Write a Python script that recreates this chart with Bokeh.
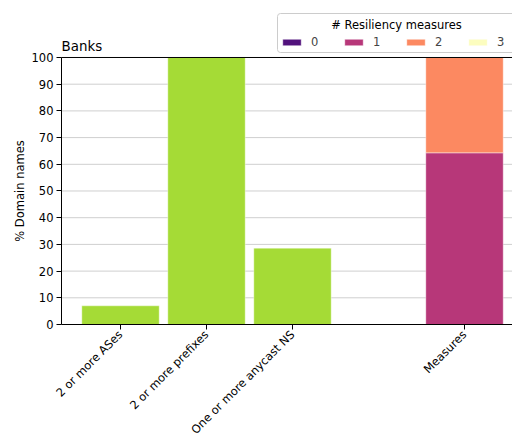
import math
from bokeh.plotting import figure
from bokeh.models import (ColumnDataSource, Range1d, FixedTicker, Legend, LegendItem, Label, BoxAnnotation)
from bokeh.embed import file_html
from bokeh.resources import INLINE

# ---- data ----
categories = ["2 or more ASes", "2 or more prefixes", "One or more anycast NS"]
category_pct = [7.0, 100.0, 28.6]
measure_label = "Measures"
measure_levels = ["0", "1", "2", "3"]
measure_pct = [0.0, 64.3, 35.7, 0.0]
level_colors = ["#51127c", "#b73779", "#fc8961", "#fcfdbf"]
bar_color = "#a5db36"
y_ticks = list(range(0, 101, 10))
title_text = "Banks"
y_label = "% Domain names"
legend_title = "# Resiliency measures"

FONT = "DejaVu Sans"
FS = "11.5px"

cat_x = list(range(len(categories)))
measure_x = len(categories) + 1

# axes box limits (data units); the canvas frame is larger so that rotated
# tick labels / legend can spill outside the axes box like the original
x_lo, x_hi = -0.686, 4.558
y_lo, y_hi = 0, 100

p = figure(width=512, height=436, output_backend="svg", toolbar_location=None,
           x_range=Range1d(-1.3953, x_hi), y_range=Range1d(-41.948, 121.348),
           min_border_left=0, min_border_right=0, min_border_top=0, min_border_bottom=0)
p.title.visible = False
p.outline_line_color = None
p.xgrid.visible = False
p.ygrid.visible = False

# horizontal grid lines inside the axes box
grid_y = [t for t in y_ticks if y_lo < t < y_hi]
p.segment(x0=[x_lo] * len(grid_y), x1=[x_hi] * len(grid_y), y0=grid_y, y1=grid_y,
          line_color="#cfcfcf", line_width=1)

p.vbar(x=cat_x, top=category_pct, width=0.9, fill_color=bar_color,
       line_color="white", line_alpha=0.4, line_width=1)

src = ColumnDataSource(dict(x=[measure_x], **{lvl: [v] for lvl, v in zip(measure_levels, measure_pct)}))
stack = p.vbar_stack(measure_levels, x="x", width=0.9, source=src, fill_color=level_colors,
                     line_color="white", line_alpha=0.4, line_width=1)

# top spine
p.segment(x0=[x_lo], x1=[x_hi], y0=[y_hi], y1=[y_hi], line_color="black", line_width=1)

# legend: frame box, centred title, horizontal items
p.add_layout(BoxAnnotation(left=277, right=540, top=436 - 13, bottom=436 - 52,
                           left_units="screen", right_units="screen",
                           top_units="screen", bottom_units="screen",
                           fill_color="white", fill_alpha=0.85,
                           line_color="#cccccc", line_alpha=1.0, line_width=1, border_radius=3))
p.add_layout(Label(x=396, y=436 - 24, x_units="screen", y_units="screen", text=legend_title,
                   text_font=FONT, text_font_size=FS, text_color="black",
                   text_align="center", text_baseline="alphabetic"))
legend = Legend(items=[LegendItem(label=lvl, renderers=[r]) for lvl, r in zip(measure_levels, stack)],
                orientation="horizontal", location=(280, 436 - 48.5),
                label_text_font=FONT, label_text_font_size=FS,
                glyph_width=23, glyph_height=8, label_standoff=8, label_width=20,
                spacing=11, padding=5, margin=0,
                border_line_color=None, background_fill_alpha=0)
p.add_layout(legend, "center")

# title
p.add_layout(Label(x=61, y=436 - 45.5, x_units="screen", y_units="screen", text=title_text,
                   text_font=FONT, text_font_size="13.4px", text_color="black",
                   text_baseline="alphabetic", text_align="left"))

# y axis label
p.add_layout(Label(x=19, y=436 - 190.5, x_units="screen", y_units="screen", text=y_label,
                   angle=math.pi / 2, text_font=FONT, text_font_size=FS, text_color="black",
                   text_align="center", text_baseline="middle"))

p.yaxis.ticker = FixedTicker(ticks=y_ticks)
p.yaxis.bounds = (y_lo, y_hi)
p.yaxis.fixed_location = x_lo

p.xaxis.ticker = FixedTicker(ticks=cat_x + [measure_x])
p.xaxis.bounds = (x_lo, x_hi)
overrides = {x: c for x, c in zip(cat_x, categories)}
overrides[measure_x] = measure_label
p.xaxis.major_label_overrides = overrides
p.xaxis.major_label_orientation = math.pi / 4
p.xaxis.fixed_location = y_lo

for ax in (p.xaxis, p.yaxis):
    ax.major_label_text_font = FONT
    ax.major_label_text_font_size = FS
    ax.major_label_text_color = "black"
    ax.axis_line_color = "black"
    ax.major_tick_line_color = "black"
    ax.major_tick_out = 5
    ax.major_tick_in = 0
    ax.minor_tick_line_color = None
    ax.major_label_standoff = 3

open("out.html", "w").write(file_html(p, INLINE))
